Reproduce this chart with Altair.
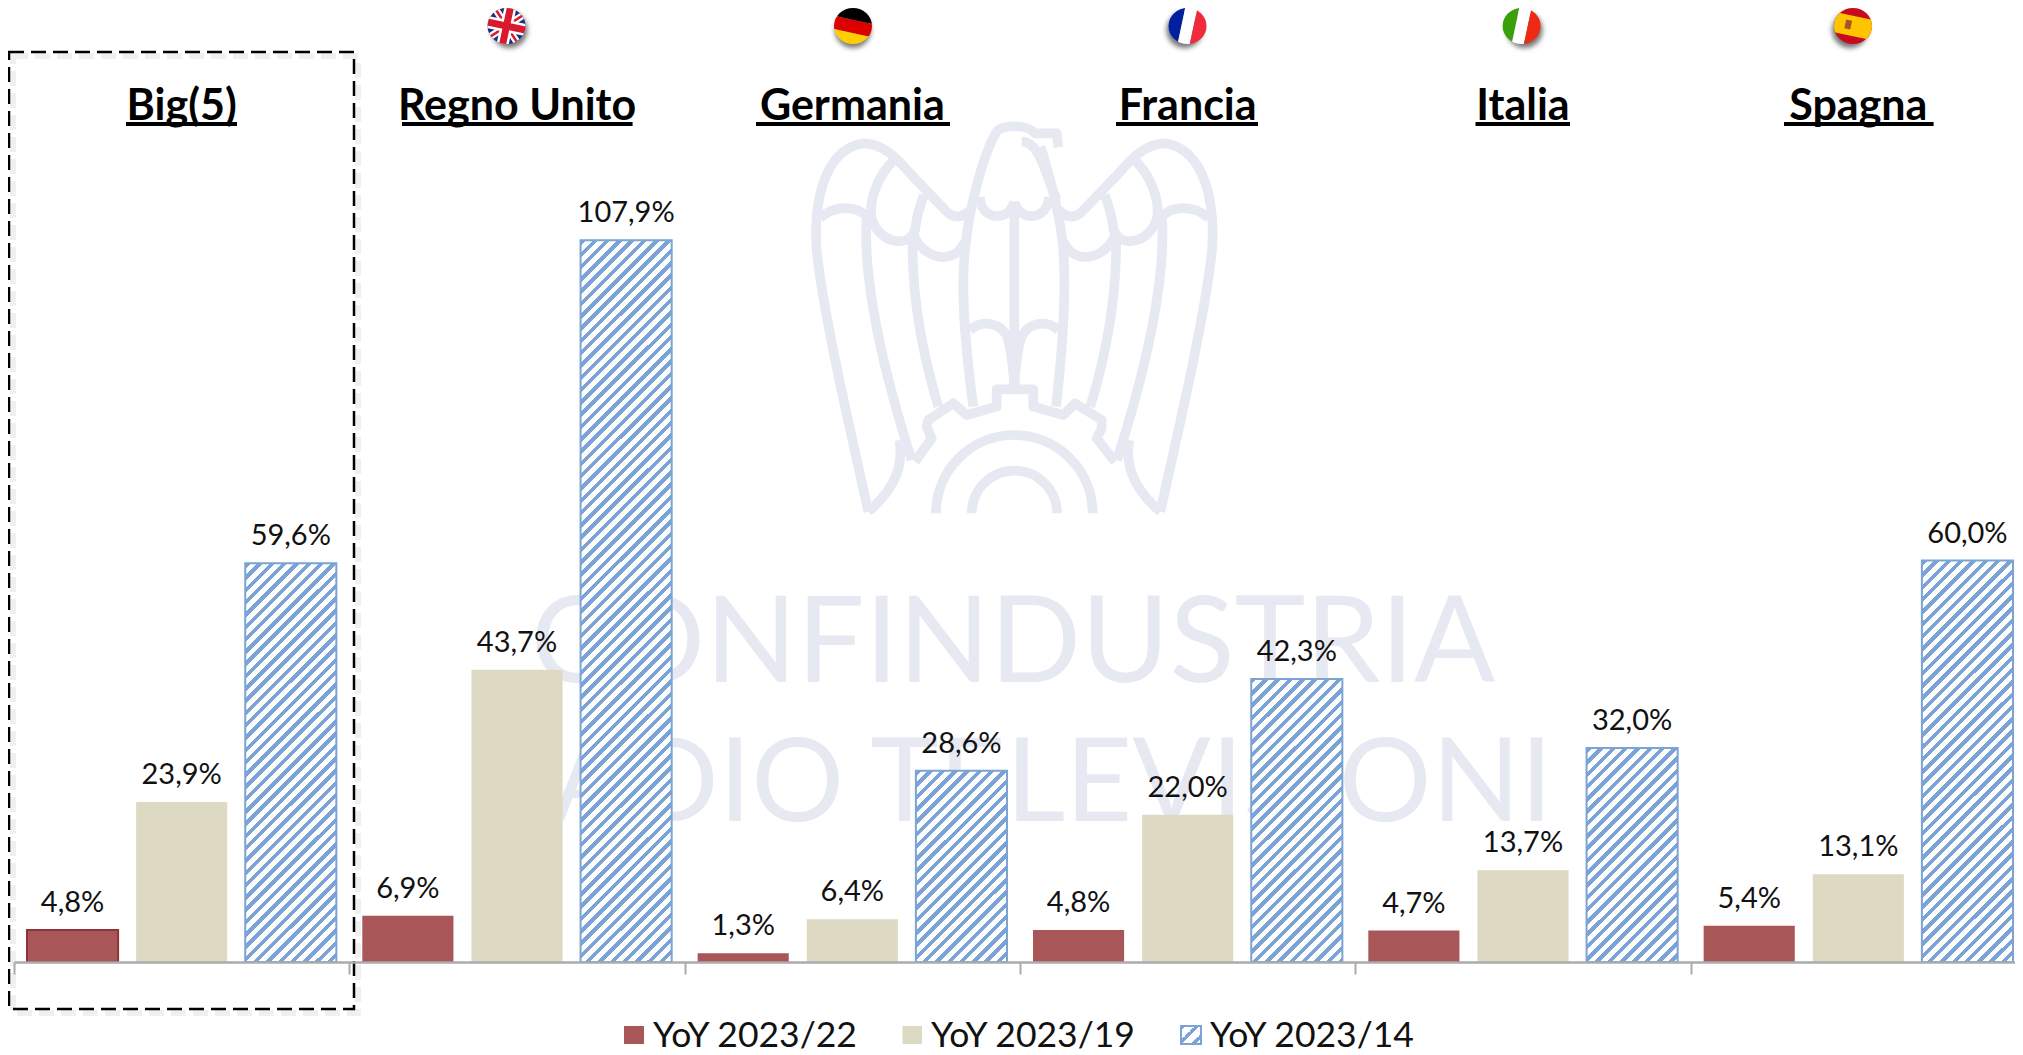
import base64
import altair as alt
import pandas as pd

countries = ["Big(5)", "Regno Unito", "Germania", "Francia", "Italia", "Spagna"]
series = ["YoY 2023/22", "YoY 2023/19", "YoY 2023/14"]
yoy_22 = [4.8, 6.9, 1.3, 4.8, 4.7, 5.4]
yoy_19 = [23.9, 43.7, 6.4, 22.0, 13.7, 13.1]
yoy_14 = [59.6, 107.9, 28.6, 42.3, 32.0, 60.0]

RED, RED_DK, BEIGE, BLUE = "#A95659", "#8E3337", "#DDD9C3", "#7BA3D6"
WM = "#E6E9F1"
FONT = "Lato"
OX, OY = 14, 8           # page position of the plot origin
PX = lambda v: v - OX
PY = lambda v: v - OY
PLOT_H = 954
PX_PER_UNIT = 6.69
BAR_W = 91


def fmt(v):
    return f"{v:.1f}".replace(".", ",") + "%"


rows = []
for c, a, b, d in zip(countries, yoy_22, yoy_19, yoy_14):
    for s, v in zip(series, (a, b, d)):
        rows.append({"country": c, "series": s, "value": v, "label": fmt(v)})
df = pd.DataFrame(rows)

x_enc = alt.X(
    "country:N",
    sort=countries,
    title=None,
    scale=alt.Scale(domain=countries, range=[0, 2012], paddingInner=0, paddingOuter=0),
    axis=alt.Axis(
        labels=False, title=None, grid=False, tickBand="extent", tickSize=12, tickWidth=2,
        tickColor="#ABABAB", domainColor="#ABABAB", domainWidth=2.5, zindex=1,
    ),
)
off_enc = alt.XOffset(
    "series:N", sort=series,
    scale=alt.Scale(domain=series, paddingInner=0.165, paddingOuter=0.119),
)
y_enc = alt.Y("value:Q", axis=None, title=None,
              scale=alt.Scale(domain=[0, PLOT_H / PX_PER_UNIT], nice=False, zero=True))


def hatch(w, h, period=12.3, frac=0.45):
    d = w + h
    a, b = w / d, h / d
    n = a * a + b * b
    stops, p, k = [], period / d, 0
    while k * p < 1:
        s0, s1, s2 = k * p, min(1, (k + frac) * p), min(1, (k + 1) * p)
        stops += [{"color": BLUE, "offset": s0}, {"color": BLUE, "offset": s1},
                  {"color": "#FFFFFF", "offset": s1}, {"color": "#FFFFFF", "offset": s2}]
        k += 1
    return {"gradient": "linear", "x1": 0, "y1": 0, "x2": a / n, "y2": b / n, "stops": stops}


def svg_uri(svg):
    return "data:image/svg+xml;base64," + base64.b64encode(svg.encode()).decode()


def image(svg, x, y, w, h):
    d = pd.DataFrame({"u": [svg_uri(svg)]})
    return alt.Chart(d).mark_image(width=w, height=h, align="left", baseline="top", aspect=False).encode(
        url=alt.Url("u:N"), x=alt.value(PX(x)), y=alt.value(PY(y)))


one = pd.DataFrame({"a": [1]})


def text(s, x, y, size, weight="normal", color="#111111", align="center"):
    return alt.Chart(one).mark_text(font=FONT, fontSize=size, fontWeight=weight, color=color,
                                    align=align, baseline="alphabetic").encode(
        x=alt.value(PX(x)), y=alt.value(PY(y)), text=alt.value(s))


def rect(x0, x1, y0, y1, **kw):
    return alt.Chart(one).mark_rect(**kw).encode(
        x=alt.value(PX(x0)), x2=alt.value(PX(x1)), y=alt.value(PY(y0)), y2=alt.value(PY(y1)))


# ---- eagle watermark (traced outline)
half = [
    "M205,1205 C160,1000 70,620 50,420 C40,280 70,120 190,100 C250,100 290,145 330,190 L440,305 C465,330 490,320 510,300",
    "M205,1205 C270,1150 315,1080 298,990",
    "M60,325 C100,285 170,285 200,320 C190,480 230,720 335,1050",
    "M282,150 C235,195 205,270 215,325 C235,395 320,420 345,360 C350,320 360,285 372,255",
    "M340,370 C360,440 460,475 495,395",
    "M338,390 C335,560 370,740 415,890",
    "M520,890 C500,740 480,560 495,420 C505,300 550,130 590,65 C605,45 680,40 705,70 L770,70 L775,112",
    "M665,95 C720,95 735,190 770,270",
    "M540,260 C540,330 625,340 643,275",
    "M510,660 C550,625 610,640 625,690 C635,730 640,780 643,830",
]
mirror = "<g transform='translate(1286,0) scale(-1,1)'>" + "".join(
    f"<path d='{p}'/>" for i, p in enumerate(half) if i not in (6, 7)) + "</g>"
right_body = "<path d='M768,890 C785,740 800,560 790,420 C785,350 770,270 722,110'/>"
eagle = (
    f"<svg xmlns='http://www.w3.org/2000/svg' width='430' height='430' viewBox='0 0 1290 1290'>"
    f"<g fill='none' stroke='{WM}' stroke-width='29' stroke-linejoin='round'>"
    + "".join(f"<path d='{p}'/>" for p in half) + mirror + right_body +
    "<path d='M643,300 L643,835'/>"
    "<path d='M345,1055 L395,985 L380,950 L385,930 L460,880 L500,915 L590,890 L590,838 L700,838 L700,890 L790,915 L825,880 L905,930 L905,955 L890,985 L945,1055'/>"
    "<path d='M408,1210 A235,235 0 0 1 878,1210'/>"
    "<path d='M515,1210 A128,128 0 0 1 771,1210'/>"
    "</g></svg>"
)


# ---- flags
def flag(body, sdx):
    return (
        "<svg xmlns='http://www.w3.org/2000/svg' width='60' height='60' viewBox='0 0 60 60'>"
        "<defs><clipPath id='c'><ellipse cx='30' cy='30' rx='19' ry='18'/></clipPath>"
        "<filter id='b' x='-50%' y='-50%' width='200%' height='200%'><feGaussianBlur stdDeviation='2.5'/></filter></defs>"
        f"<ellipse cx='{30 + sdx}' cy='34' rx='18' ry='18' fill='#777' filter='url(#b)'/>"
        f"<g clip-path='url(#c)'><g transform='rotate(12 30 30)'>{body}</g></g></svg>"
    )


uk = ("<rect x='0' y='0' width='60' height='60' fill='#1B2F7C'/>"
      "<path d='M0,0 L60,60 M60,0 L0,60' stroke='#fff' stroke-width='7'/>"
      "<path d='M0,0 L60,60 M60,0 L0,60' stroke='#D8192E' stroke-width='2.5'/>"
      "<path d='M30,0 L30,60 M0,30 L60,30' stroke='#fff' stroke-width='12'/>"
      "<path d='M30,0 L30,60 M0,30 L60,30' stroke='#D8192E' stroke-width='7'/>")
de = ("<rect x='0' y='0' width='60' height='24' fill='#000'/>"
      "<rect x='0' y='24' width='60' height='13' fill='#DD0000'/>"
      "<rect x='0' y='37' width='60' height='23' fill='#FFCE00'/>")
fr = ("<rect x='0' y='0' width='24' height='60' fill='#00209F'/>"
      "<rect x='24' y='0' width='12' height='60' fill='#fff'/>"
      "<rect x='36' y='0' width='24' height='60' fill='#EF2B3D'/>")
it = ("<rect x='0' y='0' width='24' height='60' fill='#3AA00A'/>"
      "<rect x='24' y='0' width='12' height='60' fill='#fff'/>"
      "<rect x='36' y='0' width='24' height='60' fill='#EE2A14'/>")
es = ("<rect x='0' y='0' width='60' height='60' fill='#C60B1E'/>"
      "<rect x='0' y='20' width='60' height='20' fill='#FFC400'/>"
      "<rect x='22' y='25' width='6' height='9' fill='#A5552A'/>")
flags = [(uk, 506.5, 3), (de, 853, 0), (fr, 1187.5, -3), (it, 1521.6, 3), (es, 1853, -3)]

layers = []
# watermark
layers.append(image(eagle, 800, 110, 430, 430))
layers.append(text("CONFINDUSTRIA", 1013, 682, 120, 400, WM))
layers.append(text("RADIO TELEVISIONI", 1016, 821, 116, 400, WM))

# dashed box
layers.append(rect(13, 358, 56, 1013, fill=None, stroke="#F0F0F0", strokeWidth=6, strokeDash=[15, 7]))
layers.append(rect(9, 354, 52, 1009, fill=None, stroke="#000000", strokeWidth=2.5, strokeDash=[15, 7]))

base = alt.Chart(df)

# red and beige bars
layers.append(base.transform_filter(alt.datum.series == series[0]).mark_bar(color=RED).encode(
    x=x_enc, xOffset=off_enc, y=y_enc))
layers.append(base.transform_filter(alt.datum.series == series[1]).mark_bar(color=BEIGE).encode(
    x=x_enc, xOffset=off_enc, y=y_enc))
layers.append(base.transform_filter(
    (alt.datum.series == series[0]) & (alt.datum.country == countries[0])
).mark_bar(color=RED, stroke=RED_DK, strokeWidth=2).encode(x=x_enc, xOffset=off_enc, y=y_enc))

# hatched bars
for c, v in zip(countries, yoy_14):
    layers.append(base.transform_filter(
        (alt.datum.series == series[2]) & (alt.datum.country == c)
    ).mark_bar(fill=hatch(BAR_W, v * PX_PER_UNIT), stroke=BLUE, strokeWidth=2).encode(
        x=x_enc, xOffset=off_enc, y=y_enc))

# value labels
layers.append(base.mark_text(font=FONT, fontSize=29, color="#111111", baseline="alphabetic", dy=-18).encode(
    x=x_enc, xOffset=off_enc, y=y_enc, text="label:N"))

# titles
title_df = pd.DataFrame({"country": countries})
layers.append(alt.Chart(title_df).mark_text(font=FONT, fontSize=43, fontWeight="bold", color="#000000",
                                            baseline="alphabetic").encode(
    x=x_enc, y=alt.value(PY(120)), text="country:N"))
for x0, x1 in [(126, 237), (402, 632.6), (756, 950), (1116, 1258), (1475.5, 1570), (1784, 1933.6)]:
    layers.append(rect(x0, x1, 122, 126, fill="#000000"))

# flags
for body, cx, sdx in flags:
    layers.append(image(flag(body, sdx), cx - 30, -4, 60, 60))

# legend
layers.append(rect(624, 644, 1026, 1044, fill=RED))
layers.append(rect(902.5, 922, 1026, 1044, fill=BEIGE))
layers.append(rect(1181, 1201, 1026, 1044, fill=hatch(20, 18, period=14, frac=0.35), stroke=BLUE, strokeWidth=2))
for s, x in zip(series, (653, 931, 1210)):
    layers.append(text(s, x, 1047, 35.5, align="left"))

chart = alt.layer(*layers).properties(
    width=2001,
    height=PLOT_H,
    padding={"left": 6, "top": 0, "right": 0, "bottom": 93},
    autosize=alt.AutoSizeParams(type="none"),
    background="#FFFFFF",
).configure_view(stroke=None)

chart.save("out.html", embed_options={"renderer": "svg", "actions": False})
